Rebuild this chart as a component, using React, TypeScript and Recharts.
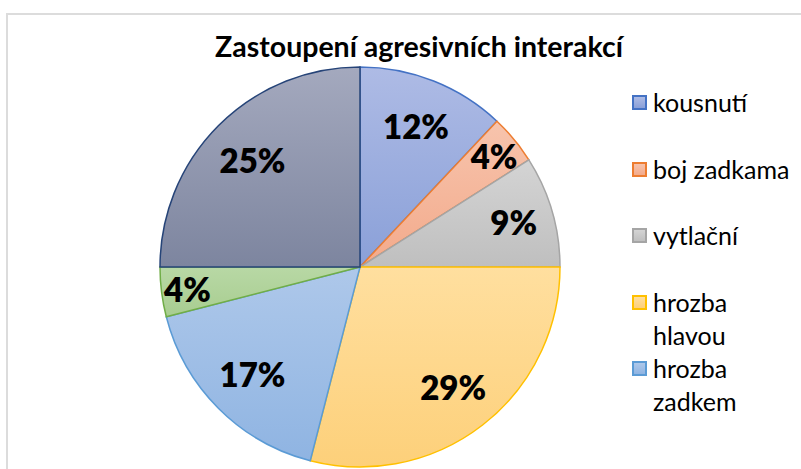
import { Cell, Legend, Pie, PieChart } from "recharts";

const categories = ["kousnutí", "boj zadkama", "vytlační", "hrozba hlavou", "hrozba zadkem", "pronásledování", "ostatní"];
const shares = [12, 4, 9, 29, 17, 4, 25];

// outline colour, gradient top, gradient bottom
const strokes = ["#4472c4", "#ed7d31", "#a5a5a5", "#ffc000", "#5b9bd5", "#70ad47", "#264478"];
const tops = ["#aebbe5", "#f7c4ad", "#d4d4d4", "#ffdf9f", "#aec8ea", "#b8d8a5", "#a4a9be"];
const bottoms = ["#8aa0d8", "#f3aa8b", "#bfbfbf", "#fdd07a", "#8fb4e2", "#a8cd90", "#7d859f"];

// legend box only has room for the first five entries
const visibleLegendItems = 5;

const data = categories.map((name, i) => ({ name, value: shares[i] }));

const RADIAN = Math.PI / 180;
const FONT = "Lato, 'Open Sans', sans-serif";

function renderLabel(props: any) {
  const { cx, cy, midAngle, outerRadius, percent, value } = props;
  const k = percent < 0.05 ? 0.87 : percent < 0.1 ? 0.8 : 0.76;
  const r = outerRadius * k;
  const x = cx + r * Math.cos(-midAngle * RADIAN);
  const y = cy + r * Math.sin(-midAngle * RADIAN);
  return (
    <text x={x} y={y} textAnchor="middle" dominantBaseline="central" fontFamily={FONT} fontWeight={800} fontSize={33} fill="#000">
      {value}%
    </text>
  );
}

function renderLegend() {
  return (
    <div style={{ fontFamily: FONT, fontSize: 25, color: "#000" }}>
      {categories.slice(0, visibleLegendItems).map((name, i) => (
        <div key={name} style={{ display: "flex", alignItems: "flex-start", height: 66.5 }}>
          <span
            style={{
              boxSizing: "border-box",
              width: 15,
              height: 15,
              marginTop: 9,
              marginRight: 6,
              flexShrink: 0,
              background: `linear-gradient(${tops[i]}, ${bottoms[i]})`,
              border: `2px solid ${strokes[i]}`,
            }}
          />
          <span style={{ lineHeight: "33px", width: 140 }}>{name}</span>
        </div>
      ))}
    </div>
  );
}

export default function App() {
  return (
    <div style={{ position: "absolute", left: 0, top: 0, width: 801, height: 469, overflow: "hidden", background: "#fff" }}>
      <div
        style={{
          position: "absolute",
          left: 6,
          top: 13,
          width: 900,
          height: 600,
          borderLeft: "2px solid #dcdcdc",
          borderTop: "2px solid #dcdcdc",
        }}
      />
      <div style={{ position: "absolute", left: 0, top: 0 }}>
        <PieChart width={801} height={469} margin={{ top: 0, right: 0, bottom: 0, left: 0 }}>
          <defs>
            {categories.map((_, i) => (
              <linearGradient key={i} id={`slice${i}`} x1="0" y1="0" x2="0" y2="1">
                <stop offset="0%" stopColor={tops[i]} />
                <stop offset="100%" stopColor={bottoms[i]} />
              </linearGradient>
            ))}
          </defs>
          <text x={419} y={46} textAnchor="middle" dominantBaseline="central" fontFamily={FONT} fontWeight={700} fontSize={28.5} fill="#000">
            Zastoupení agresivních interakcí
          </text>
          <Pie
            data={data}
            dataKey="value"
            nameKey="name"
            cx={360}
            cy={267}
            outerRadius={200}
            startAngle={90}
            endAngle={-270}
            label={renderLabel}
            labelLine={false}
            isAnimationActive={false}
          >
            {data.map((d, i) => (
              <Cell key={d.name} fill={`url(#slice${i})`} stroke={strokes[i]} strokeWidth={1.5} />
            ))}
          </Pie>
          <Legend
            layout="vertical"
            align="right"
            verticalAlign="top"
            content={renderLegend}
            wrapperStyle={{ position: "absolute", left: 632, top: 86, width: 170 }}
          />
        </PieChart>
      </div>
    </div>
  );
}
